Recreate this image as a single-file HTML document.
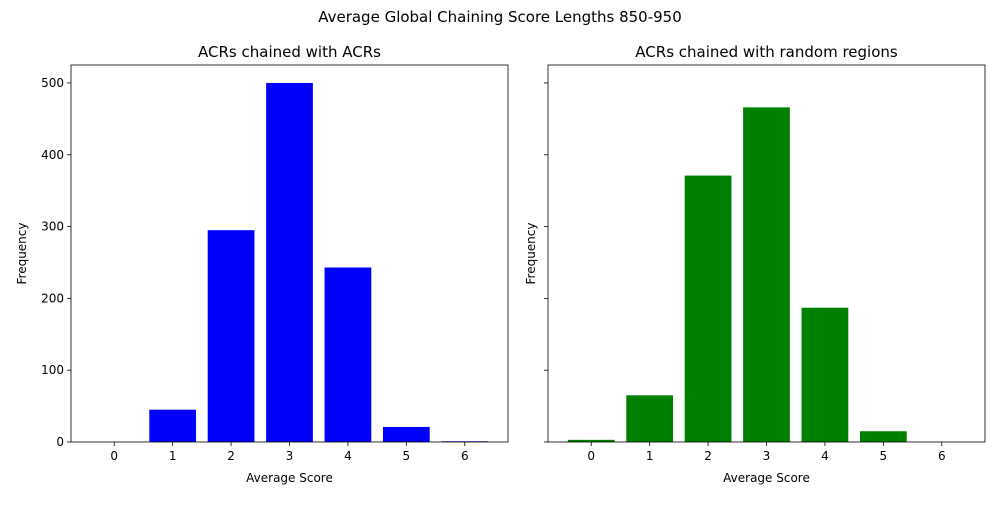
<!DOCTYPE html>
<html><head><meta charset="utf-8"><style>
body{margin:0;background:#fff;font-family:"Liberation Sans","DejaVu Sans",sans-serif}
</style></head><body>
<svg id="chart" width="1000" height="500" xmlns="http://www.w3.org/2000/svg" font-family="DejaVu Sans, Liberation Sans, sans-serif">
<text x="500" y="22" text-anchor="middle" font-size="15">Average Global Chaining Score Lengths 850-950</text>
</svg>
<script>
const categories=[0,1,2,3,4,5,6];
const acrValues=[0,45,295,500,243,21,1];
const randomValues=[3,65,371,466,187,15,0];
const yTicks=[0,100,200,300,400,500];
const panels=[
 {left:71,title:"ACRs chained with ACRs",values:acrValues,color:"#0000ff",labels:true,name:"acr-panel"},
 {left:548,title:"ACRs chained with random regions",values:randomValues,color:"#008000",labels:false,name:"random-panel"}
];
const W=437,plotTop=65,plotBottom=442,xmin=-0.74,xmax=6.74,ymax=525;
const svg=document.getElementById('chart');const NS="http://www.w3.org/2000/svg";
function mk(t,a,p){const e=document.createElementNS(NS,t);for(const k in a)e.setAttribute(k,a[k]);(p||svg).appendChild(e);return e;}
panels.forEach(p=>{
 const g=mk('g',{});
 
 
 const xs=v=>p.left+(v-xmin)/(xmax-xmin)*W;
 const ys=v=>plotBottom-v/ymax*(plotBottom-plotTop);
 categories.forEach((c,i)=>{
  const r=mk('rect',{x:xs(c-0.4),y:ys(p.values[i]),width:xs(c+0.4)-xs(c-0.4),height:plotBottom-ys(p.values[i]),fill:p.color},g);
  
  
  mk('line',{x1:xs(c),x2:xs(c),y1:plotBottom,y2:plotBottom+4,stroke:'#000','stroke-width':0.8},g);
  const t=mk('text',{x:xs(c),y:plotBottom+18,'text-anchor':'middle','font-size':12},g);t.textContent=c;
  
  
 });
 yTicks.forEach(v=>{
  mk('line',{x1:p.left-4,x2:p.left,y1:ys(v),y2:ys(v),stroke:'#000','stroke-width':0.8},g);
  if(p.labels){const t=mk('text',{x:p.left-7,y:ys(v)+4,'text-anchor':'end','font-size':12},g);t.textContent=v;
  
  }
 });
 mk('rect',{x:p.left,y:plotTop,width:W,height:plotBottom-plotTop,fill:'none',stroke:'#000','stroke-width':0.8},g);
 const tt=mk('text',{x:p.left+W/2,y:57,'text-anchor':'middle','font-size':15},g);tt.textContent=p.title;
 
 
 const xl=mk('text',{x:p.left+W/2,y:482,'text-anchor':'middle','font-size':12},g);xl.textContent='Average Score';
 
 
 const yx=p.labels?26:535;
 const yl=mk('text',{x:yx,y:(plotTop+plotBottom)/2,'text-anchor':'middle','font-size':12,transform:`rotate(-90 ${yx} ${(plotTop+plotBottom)/2})`},g);yl.textContent='Frequency';
 
 
});
</script>
</body></html>
